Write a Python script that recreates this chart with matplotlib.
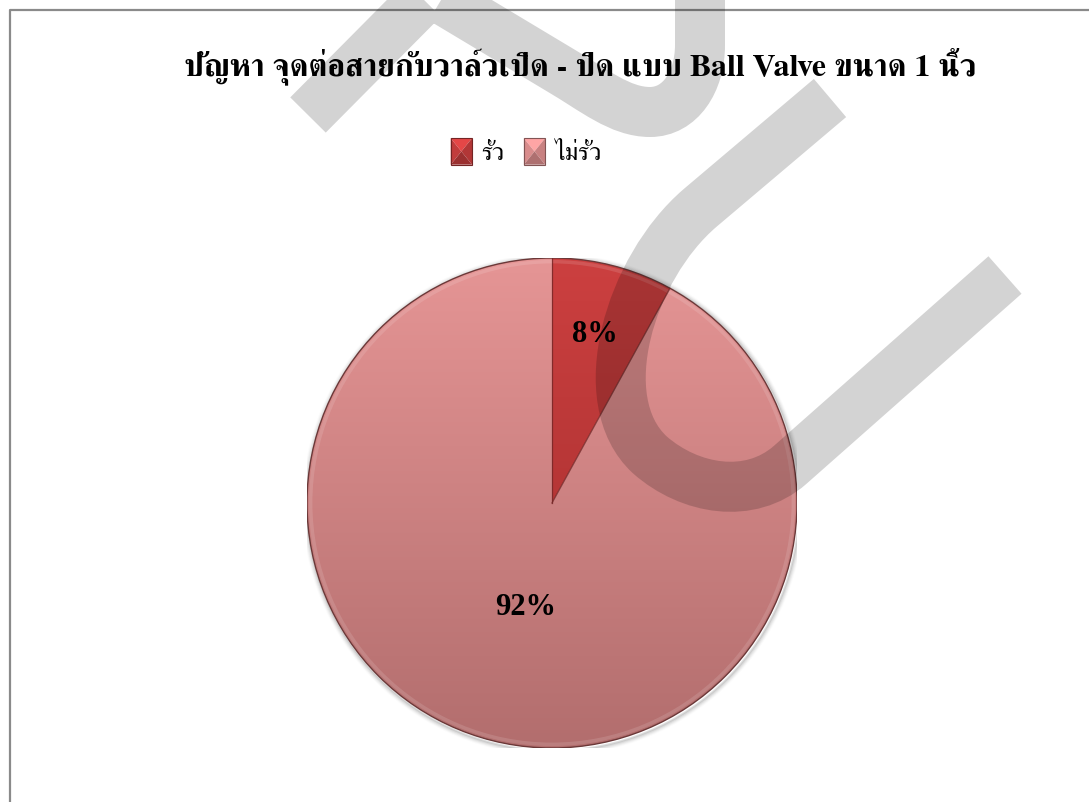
import numpy as np
import matplotlib
matplotlib.use("Agg")
import matplotlib.pyplot as plt
from matplotlib.path import Path
from matplotlib.patches import PathPatch, Rectangle, Circle, Polygon
from matplotlib.lines import Line2D
from matplotlib.transforms import Affine2D
from matplotlib.legend_handler import HandlerBase
from matplotlib.colors import to_rgb

# ---------------- data ----------------
title = "ปัญหา จุดต่อสายกับวาล์วเปิด - ปิด แบบ Ball Valve ขนาด 1 นิ้ว"
categories = ["รั่ว", "ไม่รั่ว"]
shares = [8, 92]
label_radius = [0.71, 0.44]

# slice colours: (top, bottom) of the vertical shading
slice_top = [(0.80, 0.25, 0.25), (0.90, 0.585, 0.585)]
slice_bottom = [(0.62, 0.17, 0.17), (0.70, 0.43, 0.43)]
legend_colors = ["#c23c3c", "#d98c8c"]

thai_family = ["FreeSerif", "DejaVu Serif"]
num_family = ["Liberation Serif", "DejaVu Serif"]

W, H = 1089, 802
fig = plt.figure(figsize=(W / 100, H / 100), dpi=100)
fig.patch.set_facecolor("white")

# pixel coords (top-left origin) -> figure
px = Affine2D().scale(1 / W, -1 / H).translate(0, 1) + fig.transFigure

# chart frame (only left and top edges are inside the canvas)
fig.add_artist(Line2D([10, 10, W + 5], [H + 5, 10, 10], transform=px,
                      color="#8a8a8a", lw=1.6))

# ---------------- pie ----------------
cx, cy, r = 552, 503, 245
ax = fig.add_axes([(cx - r) / W, 1 - (cy + r) / H, 2 * r / W, 2 * r / H])
ax.axis("off")

# soft drop shadow around the disc
for i, a in enumerate([0.12, 0.08, 0.05, 0.03, 0.015]):
    ax.add_patch(Circle((0.005, -0.007), 1 + 0.004 * (i + 1), facecolor="none",
                        edgecolor="black", lw=1.6, alpha=a, zorder=1))

wedges, _ = ax.pie(shares, startangle=90, counterclock=False, radius=1,
                   wedgeprops=dict(linewidth=0, edgecolor="none"))
ax.set_xlim(-1, 1)
ax.set_ylim(-1, 1)

n = 256
for w, top, bot in zip(wedges, slice_top, slice_bottom):
    t = np.linspace(0, 1, n)[:, None]
    grad = (1 - t) * np.array(top) + t * np.array(bot)
    img = ax.imshow(grad[:, None, :].repeat(2, axis=1), extent=(-1, 1, -1, 1),
                    origin="upper", aspect="auto", zorder=2, interpolation="bilinear")
    img.set_clip_path(w)
    w.set_facecolor("none")
    w.set_zorder(3)

# darker rim and bevel highlight
ax.add_patch(Circle((0, 0), 1, facecolor="none", edgecolor=(0.42, 0.22, 0.22),
                    lw=1.0, zorder=4))
hl = Circle((0, 0), 0.985, facecolor="none", edgecolor="white", lw=2.5,
            alpha=0.12, zorder=4)
ax.add_patch(hl)
hl.set_clip_path(Circle((0, 0), 1, transform=ax.transData))

# slice borders
theta = 90 - np.cumsum([0] + shares) / sum(shares) * 360
for th in theta[:-1]:
    ang = np.deg2rad(th)
    ax.plot([0, np.cos(ang)], [0, np.sin(ang)], color=(0.45, 0.15, 0.15),
            lw=0.9, alpha=0.8, zorder=4)

# percentage labels
for v, lr, a0, a1 in zip(shares, label_radius, theta[:-1], theta[1:]):
    mid = np.deg2rad((a0 + a1) / 2)
    ax.text(lr * np.cos(mid), lr * np.sin(mid), f"{v}%", ha="center",
            va="center", fontsize=22, fontweight="bold", family=num_family,
            zorder=6)

# ---------------- title & legend ----------------
fig.text(580 / W, 1 - 66 / H, title, ha="center", va="center", fontsize=23,
         fontweight="bold", family=thai_family)


class BevelSquare(HandlerBase):
    """Legend key drawn as a small bevelled (pyramid-shaded) square."""

    def create_artists(self, legend, orig_handle, xdescent, ydescent,
                       width, height, fontsize, trans):
        base = np.array(to_rgb(orig_handle.get_facecolor()))
        x0, y0 = -xdescent, -ydescent
        x1, y1 = x0 + width, y0 + height
        xm, ym = (x0 + x1) / 2, (y0 + y1) / 2
        faces = [
            ([(x0, y1), (x1, y1), (xm, ym)], 1.18),   # top
            ([(x0, y0), (x0, y1), (xm, ym)], 1.00),   # left
            ([(x1, y0), (x1, y1), (xm, ym)], 0.92),   # right
            ([(x0, y0), (x1, y0), (xm, ym)], 0.80),   # bottom
        ]
        arts = []
        for pts, k in faces:
            arts.append(Polygon(pts, closed=True, transform=trans, lw=0,
                                facecolor=np.clip(base * k, 0, 1)))
        arts.append(Rectangle((x0, y0), width, height, transform=trans,
                              facecolor="none", edgecolor=base * 0.6, lw=0.8))
        return arts


handles = [Rectangle((0, 0), 1, 1, facecolor=c) for c in legend_colors]
fig.legend(handles, categories, loc="center", ncol=2,
           bbox_to_anchor=(526 / W, 1 - 152 / H), frameon=False,
           prop=dict(family=thai_family, size=18), handlelength=0.85,
           handleheight=1.25, handletextpad=0.35, columnspacing=0.8,
           handler_map={Rectangle: BevelSquare()})

# ---------------- watermark strokes ----------------
wm_a = Path([(308, 115), (430, -8), (560, 70),
             (594, 90), (620, 112), (650, 112),
             (680, 112), (700, 82), (700, 45),
             (700, -40)],
            [Path.MOVETO, Path.LINETO, Path.LINETO,
             Path.CURVE4, Path.CURVE4, Path.CURVE4,
             Path.CURVE4, Path.CURVE4, Path.CURVE4,
             Path.LINETO])
wm_b = Path([(830, 98), (700, 208),
             (630, 268), (590, 400), (650, 455),
             (690, 490), (750, 500), (790, 465),
             (1005, 275)],
            [Path.MOVETO, Path.LINETO,
             Path.CURVE4, Path.CURVE4, Path.CURVE4,
             Path.CURVE4, Path.CURVE4, Path.CURVE4,
             Path.LINETO])
for p in (wm_a, wm_b):
    fig.add_artist(PathPatch(p, transform=px, facecolor="none", edgecolor="black",
                             alpha=0.173, lw=36, capstyle="butt",
                             joinstyle="miter", zorder=10))

fig.savefig("out.png", dpi=100)
